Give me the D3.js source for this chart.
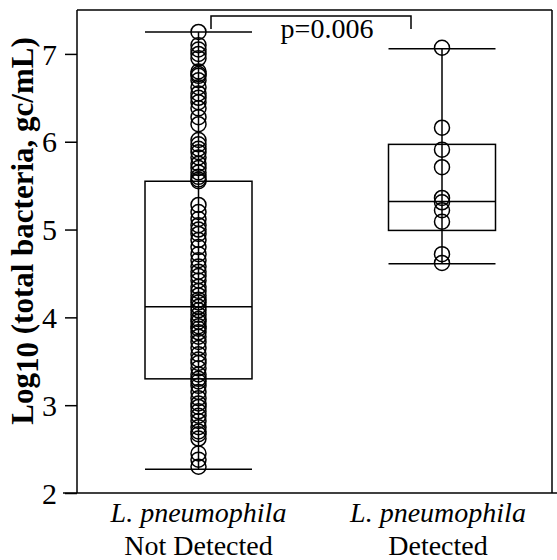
<!DOCTYPE html>
<html><head><meta charset="utf-8">
<script src="https://cdn.jsdelivr.net/npm/d3@7"></script>
<style>body{margin:0;background:#fff}svg{display:block}text{font-family:"Liberation Serif";}</style>
</head><body>
<svg id="chart" width="557" height="560"></svg>
<script>
const categories = ["Not Detected", "Detected"];
const italicLabels = ["L. pneumophila", "L. pneumophila"];
const notDetected = [7.25, 7.1, 7.05, 7.0, 6.95, 6.8, 6.77, 6.75, 6.7, 6.62, 6.55, 6.5, 6.45, 6.38, 6.28, 6.2,
  6.02, 5.97, 5.92, 5.88, 5.82, 5.75, 5.7, 5.65, 5.6, 5.57, 5.55, 5.28, 5.2, 5.12, 5.05, 5.0, 4.95, 4.88, 4.8,
  4.72, 4.65, 4.58, 4.52, 4.47, 4.42, 4.35, 4.3, 4.25, 4.2, 4.17, 4.12, 4.08, 4.03, 3.98, 3.95, 3.9, 3.87, 3.83,
  3.78, 3.72, 3.65, 3.58, 3.52, 3.48, 3.42, 3.35, 3.3, 3.27, 3.22, 3.15, 3.08, 3.02, 2.98, 2.93, 2.88, 2.82,
  2.75, 2.7, 2.67, 2.62, 2.45, 2.38, 2.3];
const detected = [7.07, 6.16, 5.91, 5.71, 5.36, 5.31, 5.22, 5.09, 4.72, 4.62];
const whiskerLow = [2.27, 4.61];
const q1 = [3.3, 4.99];
const median = [4.12, 5.32];
const q3 = [5.55, 5.97];
const whiskerHigh = [7.25, 7.06];
const yTicks = [2, 3, 4, 5, 6, 7];
const pLabel = "p=0.006";

(function () {
const seriesValues = [notDetected, detected];
const svg = d3.select("#chart");
const FONT = "Liberation Serif";
const mLeft = 77, mRight = 552, mTop = 10, mBottom = 493;

const y = d3.scaleLinear().domain([2, 7.5]).range([mBottom, mTop]);
const x = d3.scalePoint().domain(categories).range([198.5, 442]);
const boxW = 107;

// frame
const fl = (x1, y1, x2, y2) => svg.append("line").attr("x1", x1).attr("x2", x2).attr("y1", y1).attr("y2", y2)
  .attr("stroke", "#000").attr("stroke-width", 1.5);
fl(63, mBottom, 557, mBottom);
fl(mLeft, mTop, mLeft, mBottom);
fl(mLeft, mTop, mRight, mTop);
fl(mRight, mTop, mRight, mBottom);

// y axis
const yAxis = d3.axisLeft(y).tickValues(yTicks).tickSize(12).tickPadding(8).tickFormat(d3.format("d"));
const ya = svg.append("g").attr("transform", `translate(${mLeft},0)`).call(yAxis);
ya.select(".domain").remove();
ya.selectAll(".tick line").attr("stroke", "#000").attr("stroke-width", 1.5);
ya.selectAll(".tick text").attr("font-family", FONT).attr("font-size", 30).attr("fill", "#000")
  .attr("dy", "0.34em");

// y title
const yt = svg.append("text").attr("transform", `translate(33,231) rotate(-90)`)
  .attr("text-anchor", "middle").attr("font-family", FONT).attr("font-size", 31)
  .attr("font-weight", "bold").attr("fill", "#000");
yt.append("tspan").text("Log");
yt.append("tspan").attr("dy", 5).text("10");
yt.append("tspan").attr("dy", -5).text(" (total bacteria, gc/mL)");

// boxes
categories.forEach((c, i) => {
  const cx = x(c);
  const g = svg.append("g");
  const st = (s) => s.attr("stroke", "#000").attr("stroke-width", 1.5).attr("fill", "none");
  st(g.append("line").attr("x1", cx).attr("x2", cx).attr("y1", y(whiskerHigh[i])).attr("y2", y(whiskerLow[i])));
  st(g.append("rect").attr("x", cx - boxW / 2).attr("width", boxW)
    .attr("y", y(q3[i])).attr("height", y(q1[i]) - y(q3[i])));
  st(g.append("line").attr("x1", cx - boxW / 2).attr("x2", cx + boxW / 2).attr("y1", y(median[i])).attr("y2", y(median[i])));
  [whiskerHigh[i], whiskerLow[i]].forEach(v => {
    st(g.append("line").attr("x1", cx - boxW / 2).attr("x2", cx + boxW / 2).attr("y1", y(v)).attr("y2", y(v)));
  });
  g.selectAll("circle").data(seriesValues[i]).join("circle")
    .attr("cx", cx).attr("cy", d => y(d)).attr("r", 7.5)
    .attr("fill", "none").attr("stroke", "#000").attr("stroke-width", 1.5);
});

// x labels
categories.forEach((c, i) => {
  const cx = x(c) - (i === 1 ? 4 : 0);
  svg.append("text").attr("x", cx).attr("y", 522).attr("text-anchor", "middle")
    .attr("font-family", FONT).attr("font-size", 28).attr("font-style", "italic").text(italicLabels[i]);
  svg.append("text").attr("x", cx).attr("y", 555).attr("text-anchor", "middle")
    .attr("font-family", FONT).attr("font-size", 28).text(c);
});

// significance bracket
const bx1 = 211, bx2 = 411;
svg.append("path").attr("d", `M${bx1},29V16H${bx2}V29`).attr("fill", "none")
  .attr("stroke", "#000").attr("stroke-width", 1.5);
svg.append("text").attr("x", 327).attr("y", 38).attr("text-anchor", "middle")
  .attr("font-family", FONT).attr("font-size", 28).text(pLabel);
})();
</script>
</body></html>
